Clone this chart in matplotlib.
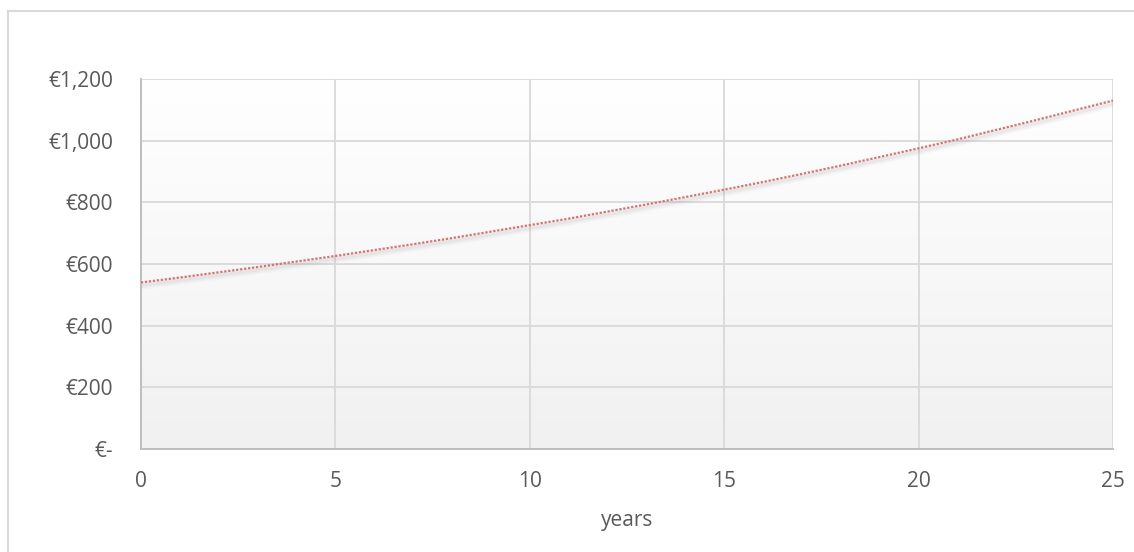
import numpy as np
import matplotlib
matplotlib.use("Agg")
import matplotlib.pyplot as plt
import matplotlib.transforms as mtransforms
from matplotlib.lines import Line2D

# Projected value per year
years = list(range(0, 26))
values = [540, 556, 573, 590, 608, 626, 645, 664, 684, 705, 726, 747, 770,
          793, 817, 841, 866, 892, 919, 947, 975, 1004, 1035, 1066, 1098, 1130]

x_ticks = [0, 5, 10, 15, 20, 25]
y_ticks = [0, 200, 400, 600, 800, 1000, 1200]
y_labels = ["€-", "€200", "€400", "€600", "€800", "€1,000", "€1,200"]

plt.rcParams['font.family'] = ['Open Sans', 'DejaVu Sans']
text_color = '#595959'

fig = plt.figure(figsize=(11.34, 5.52), dpi=100)
ax = fig.add_axes([0.1243, 0.1866, 0.8571, 0.6703])

# chart frame (only top and left edges fall inside the image)
fig.add_artist(Line2D([7.5 / 1134, 7.5 / 1134], [0, 1 - 11 / 552], color='#d9d9d9', lw=1.5))
fig.add_artist(Line2D([7.5 / 1134, 1], [1 - 11 / 552, 1 - 11 / 552], color='#d9d9d9', lw=1.5))

# soft vertical gradient in the plot area
grad = np.linspace(0, 1, 256).reshape(-1, 1)
cmap = matplotlib.colors.LinearSegmentedColormap.from_list('bg', ['#f1f1f1', '#ffffff'])
ax.imshow(grad, extent=[0, 1, 0, 1], transform=ax.transAxes, cmap=cmap,
          aspect='auto', origin='lower', zorder=0)

ax.set_xlim(0, 25)
ax.set_ylim(0, 1200)
ax.set_xticks(x_ticks)
ax.set_yticks(y_ticks)
ax.set_yticklabels(y_labels)
ax.grid(True, color='#d9d9d9', linewidth=1.3, zorder=1)
ax.set_axisbelow(True)

for side in ['top', 'right']:
    ax.spines[side].set_visible(False)
for side in ['left', 'bottom']:
    ax.spines[side].set_color('#bfbfbf')
    ax.spines[side].set_linewidth(1.4)

ax.tick_params(axis='both', length=0, labelsize=15, colors=text_color)
ax.tick_params(axis='y', pad=20)
ax.tick_params(axis='x', pad=16)
ax.set_xlabel('years', fontsize=15, color=text_color, labelpad=13)

# blurred drop shadow under the trend line
for dy, lw, a in [(-3, 6, 0.04), (-3, 4, 0.05), (-3, 2, 0.07)]:
    tr = mtransforms.offset_copy(ax.transData, fig=fig, x=0, y=dy, units='dots')
    ax.plot(years, values, color='#808080', lw=lw, alpha=a, transform=tr,
            solid_capstyle='butt', zorder=2)

ax.plot(years, values, color='#d67373', lw=1.6, linestyle=(0, (1, 0.8)),
        dash_capstyle='butt', zorder=3, clip_on=False)

fig.savefig('out.png', dpi=100)
